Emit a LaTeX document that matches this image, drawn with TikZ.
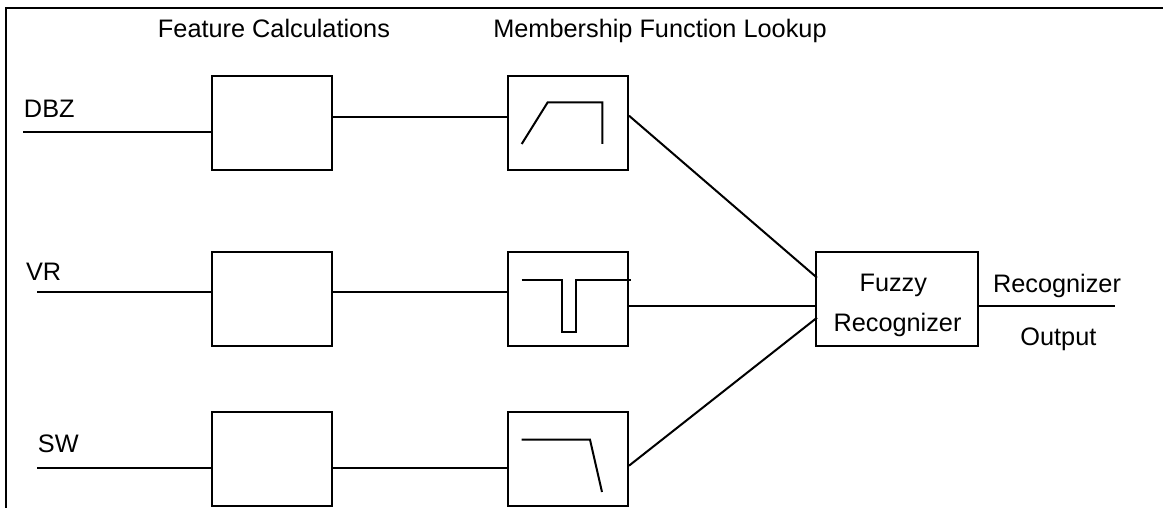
\documentclass[tikz,border=0pt]{standalone}
\usepackage{fontspec}
\setmainfont{Liberation Sans}
\begin{document}
\begin{tikzpicture}[x=0.5pt,y=-0.5pt,
  line width=1pt,
  box/.style={draw,line width=1pt,inner sep=0pt,minimum width=60pt,minimum height=47pt},
  lbl/.style={inner sep=0pt,font=\fontsize{12.65pt}{15pt}\selectfont},
  glyph/.style={line width=1pt}]
\useasboundingbox (0,0) rectangle (1163,508);
% frame
\draw (6,509) -- (6,8) -- (1164,8);
% titles
\node[lbl,anchor=base] (t1) at (274,37.7) {Feature Calculations};
\node[lbl,anchor=base] (t2) at (660,37.5) {Membership Function Lookup};
% input labels
\node[lbl,anchor=base west] (lDBZ) at (23,117.3) {DBZ};
\node[lbl,anchor=base west] (lVR) at (25,280) {VR};
\node[lbl,anchor=base west] (lSW) at (37,452.7) {SW};
% feature boxes
\node[box] (f1) at (272,123) {};
\node[box] (f2) at (272,299) {};
\node[box] (f3) at (272,459) {};
% membership boxes
\node[box] (m1) at (568,123) {};
\node[box] (m2) at (568,299) {};
\node[box] (m3) at (568,459) {};
% fuzzy recognizer
\node[box,minimum width=81pt] (fz) at (897,299) {};
\node[lbl,anchor=base] (fzA) at (893.3,291.7) {Fuzzy};
\node[lbl,anchor=base] (fzB) at (897.5,331.7) {Recognizer};
% output labels
\node[lbl,anchor=base] (oA) at (1057,292.7) {Recognizer};
\node[lbl,anchor=base] (oB) at (1058.4,345) {Output};
% input coordinates
\coordinate (iDBZ) at (23,132);
\coordinate (iVR) at (37,291.7);
\coordinate (iSW) at (37,467.7);
\coordinate (out) at (1114.5,306);
% inputs
\draw (iDBZ) -- (iDBZ -| f1.west);
\draw (iVR) -- (iVR -| f2.west);
\draw (iSW) -- (iSW -| f3.west);
% feature -> membership
\draw ([yshift=3pt]f1.east) -- ([yshift=3pt]m1.west);
\draw ([yshift=3.65pt]f2.east) -- ([yshift=3.65pt]m2.west);
\draw ([yshift=-4.35pt]f3.east) -- ([yshift=-4.35pt]m3.west);
% membership -> fuzzy
\draw ([yshift=3.65pt]m1.east) -- ([xshift=1pt,yshift=10.65pt]fz.west);
\draw ([yshift=-3.5pt]m2.east) -- ([yshift=-3.5pt]fz.west);
\draw ([yshift=-3.35pt]m3.east) -- ([xshift=1pt,yshift=-9.35pt]fz.west);
% output
\draw ([yshift=-3.5pt]fz.east) -- (out);
% glyphs
\draw[glyph] (521.7,144) -- (547.7,102.3) -- (602.3,102.3) -- (602.3,144);
\draw[glyph] (521.7,279.7) -- (562,279.7) -- (562,332) -- (576,332) -- (576,279.7) -- (630.7,279.7);
\draw[glyph] (521.7,439.7) -- (590,439.7) -- (602,492);
\end{tikzpicture}
\end{document}
